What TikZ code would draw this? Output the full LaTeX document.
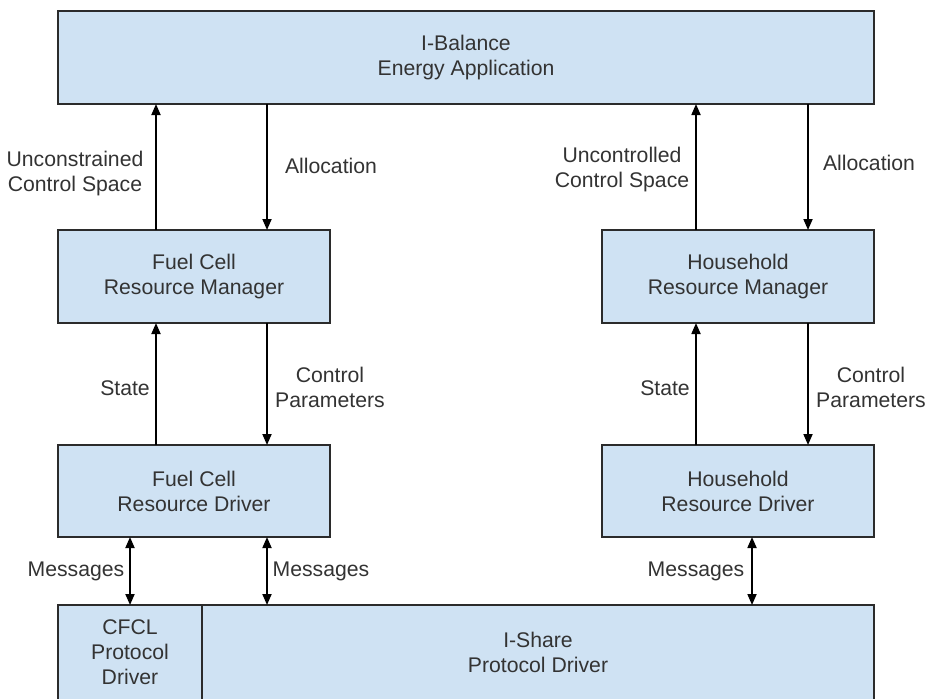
\documentclass[tikz,border=0pt]{standalone}
\usepackage{fontspec}
\setmainfont{Liberation Sans}
\usetikzlibrary{arrows.meta}
\definecolor{boxfill}{HTML}{CFE2F3}
\definecolor{boxline}{HTML}{2B2B2B}
\definecolor{txt}{HTML}{333333}
\begin{document}
\begin{tikzpicture}[x=0.5pt,y=-0.5pt,
  font=\fontsize{10.6pt}{12.5pt}\selectfont,
  box/.style={draw=boxline,fill=boxfill,line width=1pt,inner sep=0pt,outer sep=0pt,
    align=center,text=txt},
  lbl/.style={align=center,text=txt,inner sep=0pt},
  arr/.style={line width=0.9pt,draw=black,-{Triangle[length=5.5pt,width=4.5pt]}},
  darr/.style={line width=0.9pt,draw=black,{Triangle[length=5.5pt,width=4.5pt]}-{Triangle[length=5.5pt,width=4.5pt]}}]
\useasboundingbox (0,0) rectangle (929,698);
\clip (0,0) rectangle (929,698);
\fill[white] (0,0) rectangle (929,698);
% boxes
\node[box,minimum width=408pt,minimum height=46.5pt] (app) at (466,57.5) {I-Balance\\Energy Application};
\node[box,minimum width=136pt,minimum height=46.5pt] (fcrm) at (194,276.5) {Fuel Cell\\Resource Manager};
\node[box,minimum width=136pt,minimum height=46.5pt] (hhrm) at (738,276.5) {Household\\Resource Manager};
\node[box,minimum width=136pt,minimum height=46pt] (fcrd) at (194,491) {Fuel Cell\\Resource Driver};
\node[box,minimum width=136pt,minimum height=46pt] (hhrd) at (738,491) {Household\\Resource Driver};
\node[box,minimum width=72pt,minimum height=47.5pt] (cfcl) at (130,652.5) {CFCL\\Protocol\\Driver};
\node[box,minimum width=336pt,minimum height=47.5pt] (ishare) at (538,652.5) {I-Share\\Protocol Driver};
% arrows
\draw[arr] (fcrm.north -| 156,0) -- (app.south -| 156,0);
\draw[arr] (app.south -| 267,0) -- (fcrm.north -| 267,0);
\draw[arr] (hhrm.north -| 696,0) -- (app.south -| 696,0);
\draw[arr] (app.south -| 808,0) -- (hhrm.north -| 808,0);
\draw[arr] (fcrd.north -| 156,0) -- (fcrm.south -| 156,0);
\draw[arr] (fcrm.south -| 267,0) -- (fcrd.north -| 267,0);
\draw[arr] (hhrd.north -| 696,0) -- (hhrm.south -| 696,0);
\draw[arr] (hhrm.south -| 808,0) -- (hhrd.north -| 808,0);
\draw[darr] (fcrd.south -| 130,0) -- (cfcl.north -| 130,0);
\draw[darr] (fcrd.south -| 267,0) -- (ishare.north -| 267,0);
\draw[darr] (hhrd.south -| 752,0) -- (ishare.north -| 752,0);
% labels
\node[lbl] (l1) at (75,174) {Unconstrained\\Control Space};
\node[lbl] (l2) at (331,166) {Allocation};
\node[lbl] (l3) at (622,170) {Uncontrolled\\Control Space};
\node[lbl] (l4) at (869,163) {Allocation};
\node[lbl] (l5) at (125,388) {State};
\node[lbl] (l6) at (330,387) {Control\\Parameters};
\node[lbl] (l7) at (665,388) {State};
\node[lbl] (l8) at (871,387) {Control\\Parameters};
\node[lbl] (l9) at (76,571) {Messages};
\node[lbl] (l10) at (321,571) {Messages};
\node[lbl] (l11) at (696,571) {Messages};
\end{tikzpicture}
\end{document}
